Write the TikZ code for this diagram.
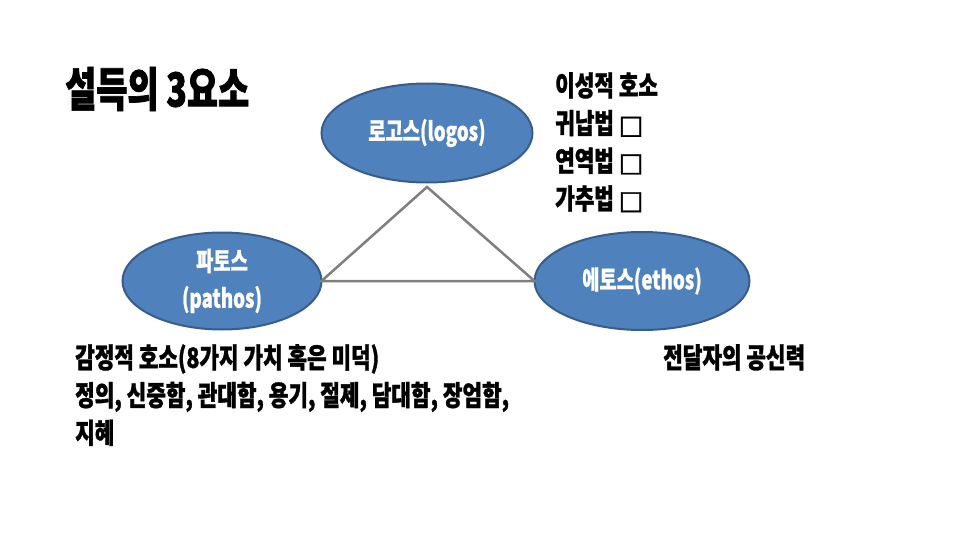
\documentclass[tikz,border=0pt]{standalone}
\usepackage{fontspec}
\usetikzlibrary{shapes.geometric}
\newfontfamily\kr{Noto Sans CJK KR}[FakeStretch=0.76, BoldFeatures={FakeBold=1.2}]
\newfontfamily\krt{Noto Sans CJK KR}[FakeStretch=0.72, BoldFeatures={FakeBold=1.5}]
\newfontfamily\krw{Noto Sans CJK KR}[FakeStretch=0.72, BoldFeatures={FakeBold=0.8}]
\newfontfamily\sym{DejaVu Sans}[BoldFeatures={FakeBold=1.5}]
\newcommand{\openbox}{{\sym\bfseries\fontsize{26}{30}\selectfont □}}
\definecolor{ellfill}{HTML}{4F81BD}
\definecolor{elldraw}{HTML}{385D8A}
\definecolor{triline}{HTML}{7F7F7F}
\tikzset{
  ell/.style={ellipse, draw=elldraw, fill=ellfill, line width=2pt, inner sep=0pt, outer sep=0pt},
  elltext/.style={text=white, align=center, inner sep=0pt, font={\krw\bfseries\fontsize{26}{37}\selectfont}},
  body/.style={text=black, align=left, inner sep=0pt, anchor=north west, font={\kr\bfseries\fontsize{28}{37.7}\selectfont}},
  titletext/.style={text=black, inner sep=0pt, anchor=west, font={\krt\bfseries\fontsize{47}{50}\selectfont}},
  tri/.style={draw=triline, line width=2.5pt}
}
\begin{document}
\begin{tikzpicture}[x=1pt, y=-1pt]
\useasboundingbox (0,0) rectangle (960,540);
\node[titletext] (title) at (65,89) {설득의 3요소};
\node[ell, minimum width=211pt, minimum height=99pt, label={[elltext]center:로고스(logos)}] (logos) at (427,133) {};
\node[ell, minimum width=199pt, minimum height=97pt, label={[elltext]center:파토스\\(pathos)}] (pathos) at (222,281) {};
\node[ell, minimum width=215pt, minimum height=98pt, label={[elltext]center:에토스(ethos)}] (ethos) at (642,281) {};
\coordinate (apex) at (427,187);
\draw[tri] (apex) -- (pathos.east) -- (ethos.west) -- cycle;
\node[body] (reason) at (555,72) {이성적 호소\\귀납법 \openbox\\연역법 \openbox\\가추법 \openbox};
\node[body] (emotion) at (75,344) {감정적 호소(8가지 가치 혹은 미덕)\\정의, 신중함, 관대함, 용기, 절제, 담대함, 장엄함,\\지혜};
\node[body] (cred) at (663,344) {전달자의 공신력};
\end{tikzpicture}
\end{document}
